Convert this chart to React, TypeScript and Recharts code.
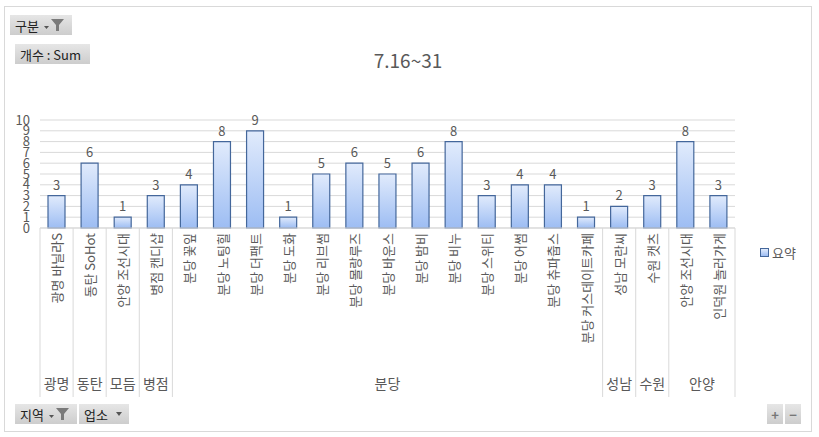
import { Bar, BarChart, CartesianGrid, LabelList, XAxis, YAxis } from "recharts";

const STORES = [
  "광명 바닐라S",
  "동탄 SoHot",
  "안양 조선시대",
  "병점 캔디샵",
  "분당 꽃잎",
  "분당 노팅힐",
  "분당 더팩트",
  "분당 도화",
  "분당 리브썸",
  "분당 몰랑루즈",
  "분당 바운스",
  "분당 밤비",
  "분당 비누",
  "분당 스위티",
  "분당 어썸",
  "분당 츄파춥스",
  "분당 커스데이트카페",
  "성남 모란씨",
  "수원 캣츠",
  "안양 조선시대",
  "인덕원 놀러가게",
];
const COUNTS = [3, 6, 1, 3, 4, 8, 9, 1, 5, 6, 5, 6, 8, 3, 4, 4, 1, 2, 3, 8, 3];
const REGIONS = ["광명", "동탄", "모듬", "병점", "분당", "성남", "수원", "안양"];
const REGION_SIZES = [1, 1, 1, 1, 13, 1, 1, 2];
const Y_TICKS = [0, 1, 2, 3, 4, 5, 6, 7, 8, 9, 10];

const W = 819;
const H = 437;
const MARGIN = { top: 120, right: 84, bottom: 34, left: 0 };
const Y_AXIS_W = 40;
const PLOT_W = W - MARGIN.left - MARGIN.right - Y_AXIS_W;
const FONT = "'Noto Sans CJK KR', 'Noto Sans', sans-serif";
const TEXT = "#595959";
const LINE = "#d9d9d9";

const data = STORES.map((name, i) => ({ key: `${i}`, name, value: COUNTS[i] }));

// first index of each region group
const groupStart: Record<number, { label: string; size: number }> = {};
let acc = 0;
REGIONS.forEach((r, i) => {
  groupStart[acc] = { label: r, size: REGION_SIZES[i] };
  acc += REGION_SIZES[i];
});

function StoreTick(props: any) {
  const { x, y, payload } = props;
  const index = payload.index;
  const band = PLOT_W / STORES.length;
  const group = groupStart[index];
  const left = x - band / 2;
  const ty = y + 5;
  return (
    <g>
      <text
        x={x}
        y={ty}
        transform={`rotate(-90 ${x} ${ty})`}
        textAnchor="end"
        dominantBaseline="central"
        fontSize={13}
        fill={TEXT}
        fontFamily={FONT}
      >
        {STORES[index]}
      </text>
      {group && (
        <>
          <line x1={left} x2={left} y1={y} y2={y + 169} stroke={LINE} />
          <text
            x={left + (group.size * band) / 2}
            y={y + 155}
            textAnchor="middle"
            dominantBaseline="central"
            fontSize={14}
            fill={TEXT}
            fontFamily={FONT}
          >
            {group.label}
          </text>
        </>
      )}
      {index === STORES.length - 1 && (
        <line x1={x + band / 2} x2={x + band / 2} y1={y} y2={y + 169} stroke={LINE} />
      )}
    </g>
  );
}

function Funnel() {
  return (
    <svg width="22" height="14" viewBox="0 0 22 14" style={{ marginLeft: 4 }}>
      <path d="M1 8 L6 8 L3.5 11 Z" fill="#555" />
      <path d="M8 1 L21 1 L16 7 L16 13 L13 13 L13 7 Z" fill="#7a7a7a" />
    </svg>
  );
}

function Arrow() {
  return (
    <svg width="10" height="10" viewBox="0 0 10 10" style={{ marginLeft: 6 }}>
      <path d="M2 3 L8 3 L5 7 Z" fill="#555" />
    </svg>
  );
}

const btn: React.CSSProperties = {
  position: "absolute",
  height: 20,
  display: "flex",
  alignItems: "center",
  padding: "0 5px",
  boxSizing: "border-box",
  background: "linear-gradient(to bottom, #e6e6e6, #cdcdcd)",
  fontSize: 13,
  color: "#222",
  fontFamily: FONT,
};

export default function App() {
  return (
    <div style={{ position: "relative", width: W, height: H, background: "#fff", fontFamily: FONT }}>
      <style>{`body{margin:0}`}</style>
      <div
        style={{
          position: "absolute",
          left: 4,
          top: 6,
          width: 808,
          height: 426,
          border: `1px solid ${LINE}`,
          boxSizing: "border-box",
        }}
      />
      <BarChart width={W} height={H} data={data} margin={MARGIN} barSize={17}>
        <defs>
          <linearGradient id="barFill" x1="0" y1="0" x2="0" y2="1">
            <stop offset="0%" stopColor="#e1ebfc" />
            <stop offset="100%" stopColor="#9dbdf3" />
          </linearGradient>
        </defs>
        <CartesianGrid vertical={false} stroke={LINE} />
        <XAxis
          dataKey="key"
          interval={0}
          height={175}
          tickLine={false}
          tickSize={0}
          tickMargin={0}
          axisLine={{ stroke: LINE }}
          tick={<StoreTick />}
        />
        <YAxis
          width={Y_AXIS_W}
          domain={[0, 10]}
          ticks={Y_TICKS}
          interval={0}
          axisLine={false}
          tickLine={false}
          tickSize={0}
          tickMargin={10}
          tick={{ fill: TEXT, fontSize: 13, fontFamily: FONT }}
        />
        <Bar dataKey="value" fill="url(#barFill)" stroke="#44679b" strokeWidth={1.2} isAnimationActive={false}>
          <LabelList dataKey="value" position="top" offset={6} fill={TEXT} fontSize={13} fontFamily={FONT} />
        </Bar>
      </BarChart>
      <div
        style={{
          position: "absolute",
          left: 0,
          width: 816,
          top: 46,
          textAlign: "center",
          fontSize: 19,
          color: TEXT,
          fontFamily: FONT,
          lineHeight: "28px",
        }}
      >
        7.16~31
      </div>
      <div style={{ ...btn, left: 10, top: 15, width: 62 }}>
        구분
        <Funnel />
      </div>
      <div style={{ ...btn, left: 15, top: 44, width: 75 }}>개수 : Sum</div>
      <div style={{ ...btn, left: 15, top: 404, width: 62 }}>
        지역
        <Funnel />
      </div>
      <div style={{ ...btn, left: 79, top: 404, width: 50 }}>
        업소
        <Arrow />
      </div>
      <div style={{ ...btn, left: 767, top: 404, width: 16, padding: 0, justifyContent: "center", color: "#777", fontWeight: 700 }}>+</div>
      <div style={{ ...btn, left: 785, top: 404, width: 16, padding: 0, justifyContent: "center", color: "#777", fontWeight: 700 }}>−</div>
      <div
        style={{
          position: "absolute",
          left: 760,
          top: 243,
          display: "flex",
          alignItems: "center",
          fontSize: 13,
          color: TEXT,
          fontFamily: FONT,
        }}
      >
        <span
          style={{
            width: 7,
            height: 7,
            border: "1px solid #44679b",
            background: "linear-gradient(to bottom, #e1ebfc, #9dbdf3)",
            marginRight: 3,
          }}
        />
        요약
      </div>
    </div>
  );
}
